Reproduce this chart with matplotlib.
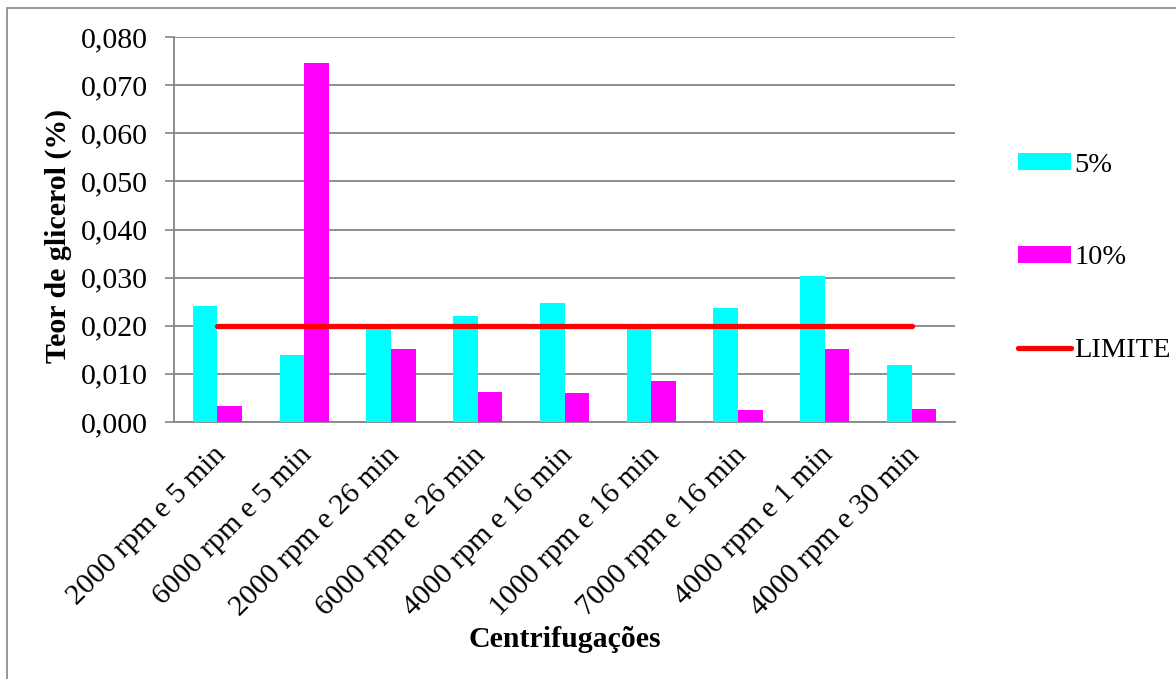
import matplotlib
matplotlib.use("Agg")
import matplotlib.pyplot as plt
import matplotlib.transforms as mtransforms
import numpy as np
from matplotlib.patches import Rectangle

categories = ["2000 rpm e 5 min", "6000 rpm e 5 min", "2000 rpm e 26 min",
              "6000 rpm e 26 min", "4000 rpm e 16 min", "1000 rpm e 16 min",
              "7000 rpm e 16 min", "4000 rpm e 1 min", "4000 rpm e 30 min"]
serie_5 = [0.0242, 0.0140, 0.0194, 0.0221, 0.0247, 0.0194, 0.0236, 0.0303, 0.0118]
serie_10 = [0.0033, 0.0747, 0.0152, 0.0063, 0.0060, 0.0086, 0.0025, 0.0152, 0.0026]
limite = [0.020] * len(categories)
yticks = [0.000, 0.010, 0.020, 0.030, 0.040, 0.050, 0.060, 0.070, 0.080]

plt.rcParams['font.family'] = ['Liberation Serif', 'DejaVu Serif']
FS = 21.5

fig = plt.figure(figsize=(11.76, 6.79), dpi=100)
ax = fig.add_axes([174/1176, 1 - 422/679, (955 - 174)/1176, (422 - 37)/679])

x = np.arange(len(categories))
w = 0.284
grid_c = '#868686'

b5 = ax.bar(x - w/2, serie_5, width=w, color='#00FFFF', label='5%', zorder=3)
b10 = ax.bar(x + w/2, serie_10, width=w, color='#FF00FF', label='10%', zorder=3)
ln, = ax.plot(x, limite, color='#FF0000', linewidth=3.8, solid_capstyle='round',
              label='LIMITE', zorder=4)

ax.set_xlim(-0.5, len(categories) - 0.5)
ax.set_ylim(0, 0.080)
ax.set_yticks(yticks)
ax.set_yticklabels([f"{v:.3f}".replace('.', ',') for v in yticks], fontsize=FS)
ax.set_xticks(x)
ax.set_xticklabels(categories, fontsize=FS, rotation=45, ha='right',
                   va='center', rotation_mode='anchor')
ax.tick_params(axis='x', length=0, pad=21)
ax.tick_params(axis='y', length=6.5, width=1.2, color=grid_c, pad=12)

# nudge the slanted category labels slightly to the right
shift = mtransforms.ScaledTranslation(0.04, 0, fig.dpi_scale_trans)
for lbl in ax.get_xticklabels():
    lbl.set_transform(lbl.get_transform() + shift)

ax.yaxis.grid(True, color=grid_c, linewidth=1.3, zorder=0)
ax.set_axisbelow(True)
for s in ['top', 'right']:
    ax.spines[s].set_visible(False)
for s in ['left', 'bottom']:
    ax.spines[s].set_color(grid_c)
    ax.spines[s].set_linewidth(1.3)

ax.set_ylabel('Teor de glicerol (%)', fontsize=FS, fontweight='bold')
ax.yaxis.set_label_coords(-0.131, 0.483)
ax.set_xlabel('Centrifugações', fontsize=FS, fontweight='bold')
ax.xaxis.set_label_coords(0.5, -0.53)

leg = ax.legend([b5, b10, ln], ['5%', '10%', 'LIMITE'],
                loc='upper left', bbox_to_anchor=(1.0807, 0.699), frameon=False,
                fontsize=20.5, labelspacing=2.37, handlelength=1.85,
                handleheight=0.55, handletextpad=0.12, borderpad=0,
                borderaxespad=0)

# outer chart border
fig.patches.append(Rectangle((7/1176, -0.05), 1.2, 1 - 8/679 + 0.05,
                             transform=fig.transFigure, fill=False,
                             edgecolor='#868686', linewidth=1.2))

fig.savefig('out.png', dpi=100, facecolor='white')
